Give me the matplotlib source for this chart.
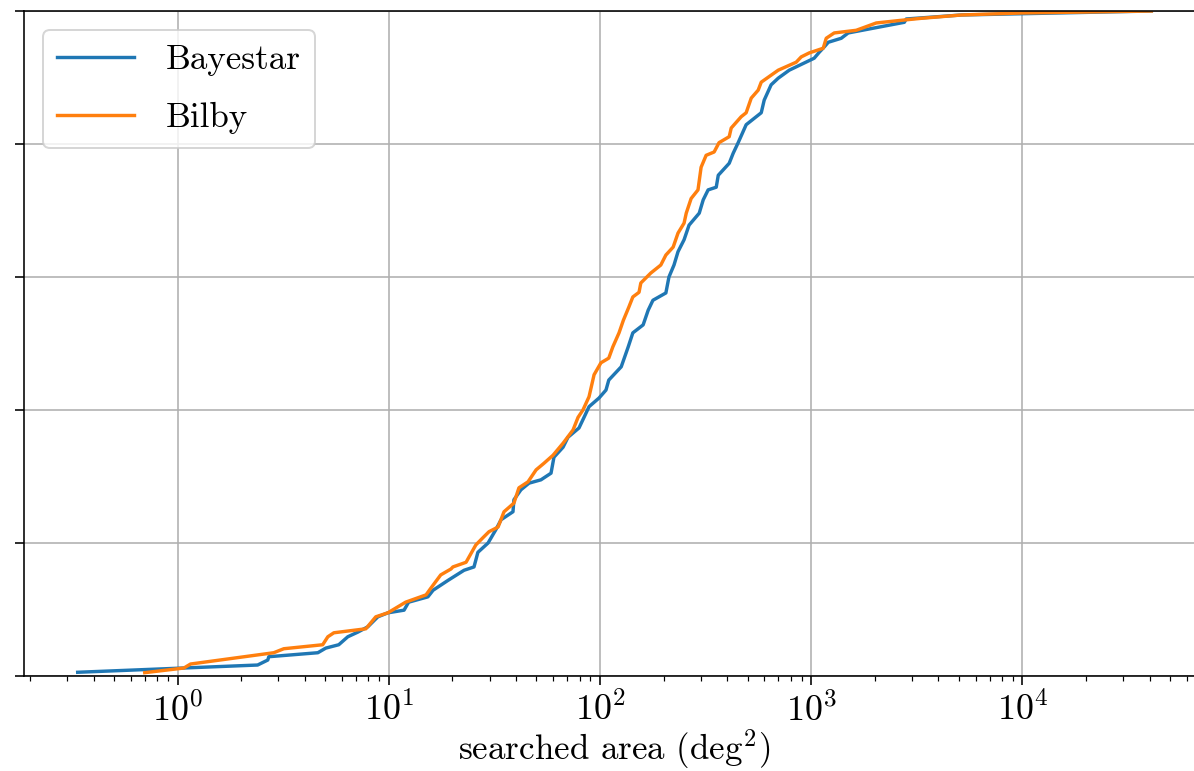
import numpy as np
import matplotlib
matplotlib.use("Agg")
import matplotlib.pyplot as plt

plt.rcParams['font.family'] = 'serif'
plt.rcParams['font.serif'] = ['cmr10']
plt.rcParams['mathtext.fontset'] = 'cm'
plt.rcParams['axes.unicode_minus'] = False
plt.rcParams['axes.formatter.use_mathtext'] = True

# searched area (deg^2) and cumulative fraction of events
bayestar_area = [0.336, 2.39, 2.67, 2.70, 4.61, 5.03, 5.79, 6.39, 7.13, 7.95, 8.87, 9.89,
                 11.8, 12.4, 15.3, 16.2, 19.1, 22.7, 25.3, 26.4, 29.5, 32.1, 34.0, 38.7,
                 39.1, 42.2, 46.1, 52.5, 58.6, 60.5, 66.8, 70.5, 79.5, 84.0, 88.7, 98.9,
                 106.7, 110, 126, 136, 143, 160, 169, 178, 205, 212, 224, 234, 250, 264,
                 295, 308, 325, 355, 363, 409, 427, 451, 492, 580, 599, 646, 698, 787,
                 1033, 1092, 1153, 1205, 1388, 1497, 2760, 2820, 5140, 40800]
bayestar_frac = [0.0056, 0.0165, 0.024, 0.029, 0.035, 0.042, 0.047, 0.059, 0.066, 0.074,
                 0.089, 0.095, 0.099, 0.111, 0.119, 0.129, 0.144, 0.159, 0.164, 0.186,
                 0.200, 0.220, 0.235, 0.247, 0.265, 0.280, 0.290, 0.295, 0.305, 0.329,
                 0.344, 0.359, 0.373, 0.389, 0.405, 0.418, 0.430, 0.445, 0.465, 0.495,
                 0.516, 0.528, 0.550, 0.565, 0.576, 0.600, 0.618, 0.638, 0.656, 0.678,
                 0.696, 0.716, 0.731, 0.735, 0.753, 0.771, 0.786, 0.802, 0.829, 0.847,
                 0.866, 0.889, 0.899, 0.911, 0.929, 0.938, 0.946, 0.953, 0.959, 0.967,
                 0.983, 0.988, 0.994, 1.0]

bilby_area = [0.698, 1.07, 1.15, 2.85, 3.18, 4.86, 5.14, 5.49, 7.78, 8.67, 9.89, 12.0,
              15.0, 15.8, 17.6, 19.7, 20.1, 23.2, 25.8, 27.9, 29.8, 32.9, 35.1, 39.1,
              41.3, 45.6, 49.8, 54.3, 59.9, 66.8, 74.5, 78.7, 83.0, 88.7, 93.7, 101,
              110, 115, 123, 129, 137, 143, 153, 156, 174, 194, 205, 222, 234, 250,
              256, 270, 291, 301, 318, 347, 366, 409, 418, 466, 492, 520, 561, 580,
              698, 849, 897, 979, 1140, 1178, 1285, 1634, 2032, 2670, 3320, 5140,
              9890, 40800]
bilby_frac = [0.005, 0.012, 0.018, 0.035, 0.041, 0.047, 0.059, 0.065, 0.071, 0.089,
              0.095, 0.111, 0.122, 0.132, 0.152, 0.161, 0.164, 0.171, 0.197, 0.208,
              0.217, 0.224, 0.247, 0.260, 0.283, 0.292, 0.310, 0.320, 0.332, 0.350,
              0.370, 0.389, 0.400, 0.420, 0.453, 0.471, 0.478, 0.495, 0.516, 0.535,
              0.555, 0.570, 0.577, 0.591, 0.606, 0.618, 0.633, 0.645, 0.666, 0.681,
              0.696, 0.718, 0.731, 0.765, 0.783, 0.788, 0.802, 0.811, 0.824, 0.841,
              0.847, 0.869, 0.881, 0.893, 0.911, 0.923, 0.931, 0.937, 0.944, 0.959,
              0.967, 0.971, 0.982, 0.986, 0.989, 0.994, 0.997, 1.0]

fig = plt.figure(figsize=(1194 / 144, 771 / 144), dpi=144)
ax = fig.add_axes([24 / 1194, 95 / 771, 1181 / 1194, 665 / 771])

ax.plot(bayestar_area, bayestar_frac, label='Bayestar', color='C0', lw=1.7)
ax.plot(bilby_area, bilby_frac, label='Bilby', color='C1', lw=1.7)

ax.set_xscale('log')
ax.set_ylim(0, 1)
ax.set_yticks(np.arange(0, 1.01, 0.2))
ax.set_yticklabels([])
ax.grid(True)
ax.tick_params(axis='both', which='major', length=4.5, labelsize=18)
ax.tick_params(axis='x', which='minor', length=2.5)
ax.set_xlabel(r'searched area (deg$^2$)', fontsize=17.5, labelpad=0)
ax.legend(loc='upper left', fontsize=17.5, labelspacing=0.75, handlelength=2.2,
          handletextpad=0.9, borderaxespad=0.55)

fig.savefig('out.png', dpi=144)
